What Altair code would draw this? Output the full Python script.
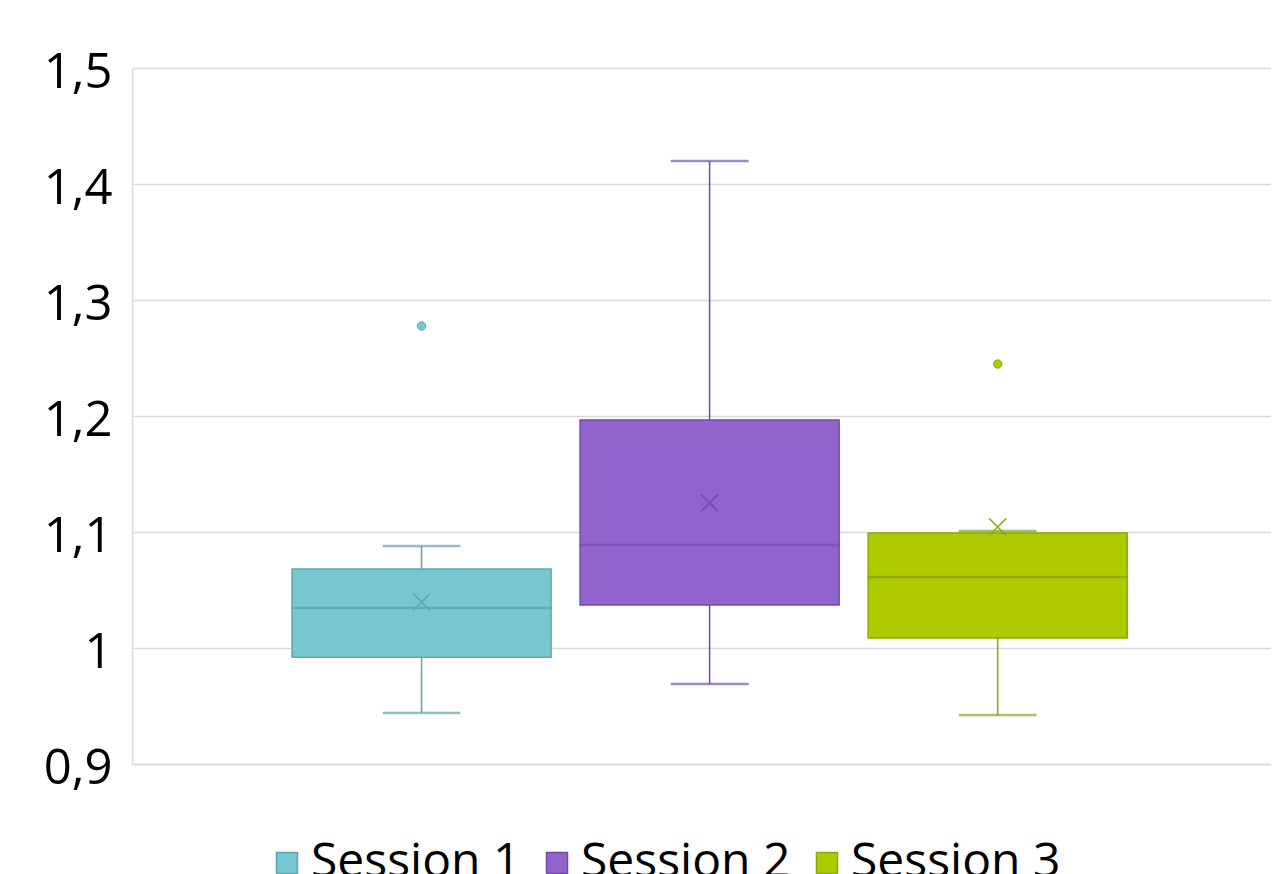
import altair as alt
import pandas as pd

sessions = ["Session 1", "Session 2", "Session 3"]
q1 = [0.992, 1.037, 1.0086]
q3 = [1.068, 1.1966, 1.0991]
median = [1.0345, 1.0888, 1.0612]
mean = [1.0397, 1.125, 1.1043]
whisker_lo = [0.944, 0.969, 0.9422]
whisker_hi = [1.0879, 1.4198, 1.1009]

outlier_sessions = ["Session 1", "Session 3"]
outlier_values = [1.2776, 1.2448]

y_ticks = [0.9, 1.0, 1.1, 1.2, 1.3, 1.4, 1.5]

fills = ["#78C6CF", "#9063CD", "#AECB00"]
strokes = ["#5AA8B2", "#7349AC", "#8DA800"]
grid = "#D9D9D9"
font = "Open Sans"

df = pd.DataFrame({
    "session": sessions, "q1": q1, "q3": q3, "median": median,
    "mean": mean, "lo": whisker_lo, "hi": whisker_hi,
})
df_out = pd.DataFrame({"session": outlier_sessions, "value": outlier_values})

x_scale = alt.Scale(domain=sessions, paddingInner=0.1007, paddingOuter=0.5274, align=0.5267)
y_scale = alt.Scale(domain=[0.9, 1.5], nice=False, zero=False)
fill_scale = alt.Scale(domain=sessions, range=fills)
stroke_scale = alt.Scale(domain=sessions, range=strokes)

x_axis = alt.Axis(labels=False, ticks=False, title=None, grid=False,
                  domainColor=grid, domainWidth=1.5)
y_axis = alt.Axis(values=y_ticks, title=None, ticks=False,
                  labelExpr="replace(format(datum.value, '.1~f'), '.', ',')",
                  labelFont=font, labelFontSize=49, labelColor="#000000",
                  labelPadding=20, labelOffset=4, gridColor=grid, gridWidth=1.5,
                  domainColor=grid, domainWidth=1.5)

X = alt.X("session:N", scale=x_scale, axis=x_axis)


def Y(field):
    return alt.Y(field, scale=y_scale, axis=y_axis)


legend = alt.Legend(title=None, orient="none", legendX=131, legendY=771,
                    direction="horizontal", symbolType="square", symbolSize=441,
                    symbolStrokeWidth=1.5, labelFont=font, labelFontSize=48,
                    labelColor="#000000", labelOffset=0, columnPadding=12,
                    labelLimit=400)

base = alt.Chart(df)

boxes = base.mark_bar(strokeWidth=1.5).encode(
    x=X, y=Y("q1:Q"), y2="q3:Q",
    fill=alt.Fill("session:N", scale=fill_scale, legend=legend),
    stroke=alt.Stroke("session:N", scale=stroke_scale, legend=legend),
)

stroke_enc = alt.Stroke("session:N", scale=stroke_scale, legend=None)

whisk_low = base.mark_rule(strokeWidth=1.5).encode(
    x=X, y=Y("lo:Q"), y2="q1:Q", stroke=stroke_enc)
whisk_high = base.mark_rule(strokeWidth=1.5).encode(
    x=X, y=Y("q3:Q"), y2="hi:Q", stroke=stroke_enc)

med = base.mark_tick(size=259, thickness=1.5).encode(
    x=X, y=Y("median:Q"), stroke=stroke_enc)

cap_lo = base.mark_tick(size=77, thickness=1.5).encode(
    x=X, y=Y("lo:Q"), stroke=stroke_enc)
cap_hi = base.mark_tick(size=77, thickness=1.5).encode(
    x=X, y=Y("hi:Q"), stroke=stroke_enc)

mean_pts = base.mark_point(shape="M-1,-1L1,1M-1,1L1,-1", size=289, filled=False,
                           strokeWidth=1.5, opacity=1).encode(
    x=X, y=Y("mean:Q"), stroke=stroke_enc)

outliers = alt.Chart(df_out).mark_point(shape="circle", size=70, filled=False,
                                        strokeWidth=1, opacity=1).encode(
    x=X, y=Y("value:Q"),
    fill=alt.Fill("session:N", scale=fill_scale, legend=None),
    stroke=stroke_enc)

chart = alt.layer(boxes, whisk_low, whisk_high, med, cap_lo, cap_hi, mean_pts, outliers).properties(
    width=1139, height=696,
    padding={"left": 124, "top": 60, "right": 0, "bottom": 110},
    autosize=alt.AutoSizeParams(type="none"),
    background="white",
).configure_view(stroke=None)

chart.save("out.html", embed_options={"renderer": "svg", "actions": False})
